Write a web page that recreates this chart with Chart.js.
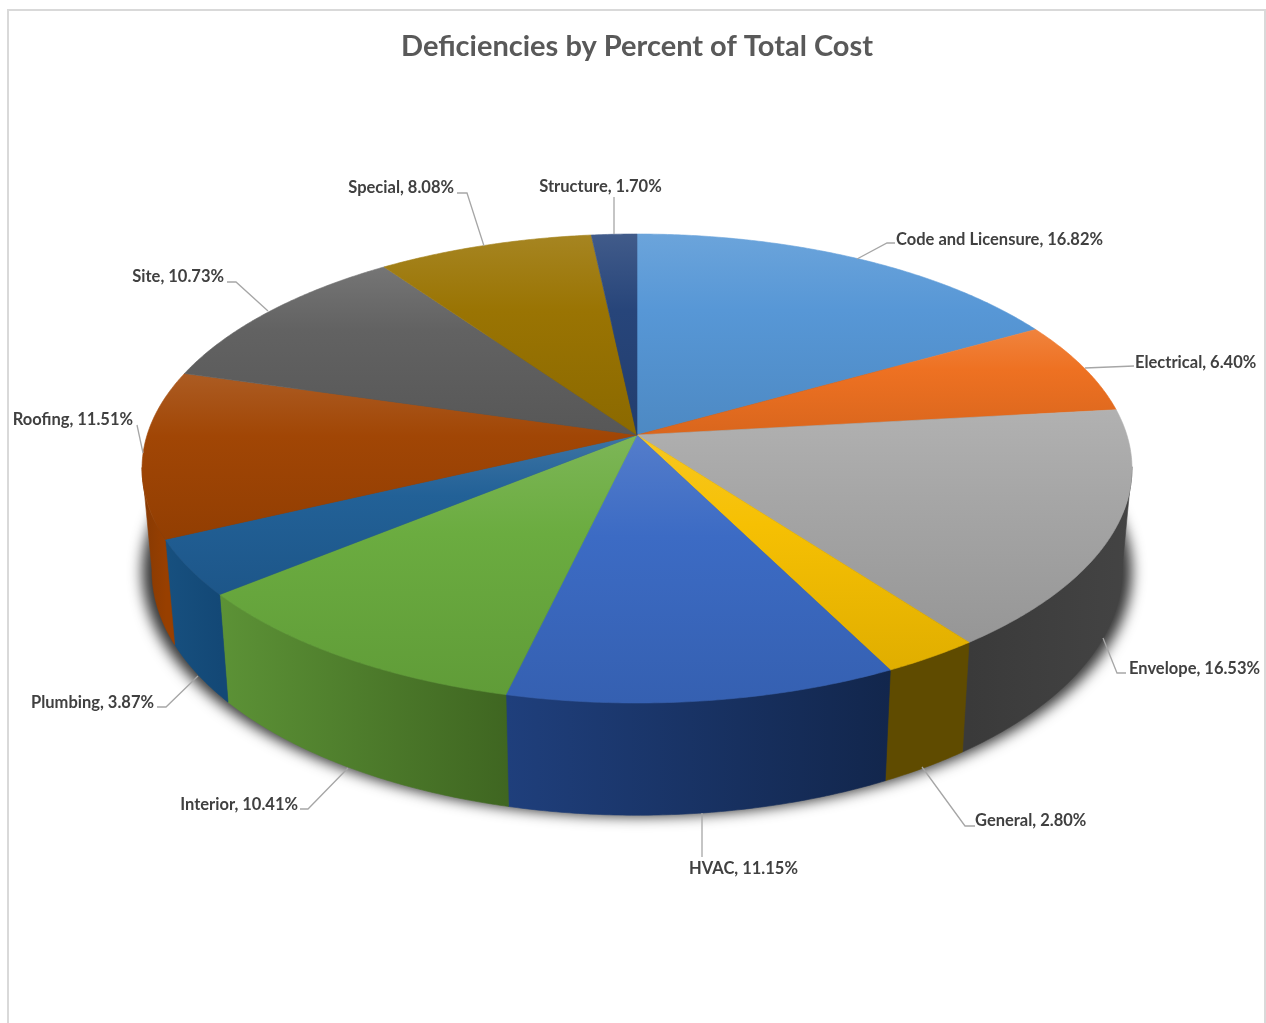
<!DOCTYPE html>
<html><head><meta charset="utf-8">
<style>html,body{margin:0;padding:0;background:#fff}canvas{display:block}</style>
<script src="https://cdn.jsdelivr.net/npm/chart.js@4"></script>
</head><body>
<canvas id="c" width="1266" height="1023"></canvas>
<script>
const categories = ["Code and Licensure","Electrical","Envelope","General","HVAC","Interior","Plumbing","Roofing","Site","Special","Structure"];
const percentCost = [16.82,6.40,16.53,2.80,11.15,10.41,3.87,11.51,10.73,8.08,1.70];
const chartTitle = "Deficiencies by Percent of Total Cost";

// styles
const topColors  = ["#5596d6","#ee7020","#a5a5a5","#f6bf00","#3a69c3","#69ab3e","#205f96","#a04402","#606060","#997300","#254379"];
const sideColors = [["#2f5a85","#2f5a85"],["#8a4010","#8a4010"],["#3a3a3a","#444444"],["#5f4b00","#5f4b00"],["#1f3f7c","#12264c"],["#5c9236","#3f6621"],["#17507f","#134876"],["#863a04","#983f00"],["#3a3a3a","#3a3a3a"],["#5c4600","#5c4600"],["#172a4a","#172a4a"]];
// label layout: [text x, text y, align, leader polyline]
const labelLayout = [
 [896,240,"left",[[857,259],[887,243],[895,243]]],
 [1135,363,"left",[[1085,368],[1134,366]]],
 [1129,669,"left",[[1103,638],[1117,673],[1126,673]]],
 [975,821,"left",[[922,767],[965,826],[975,826]]],
 [743.5,869,"center",[[702,813],[702,857]]],
 [298,805,"right",[[348,768],[308,809],[300,809]]],
 [154,703,"right",[[198,676],[166,707],[157,707]]],
 [133,420,"right",[[143,453],[137,425]]],
 [224,277,"right",[[268,311],[236,282],[227,282]]],
 [454,188,"right",[[484,246],[467,193],[457,193]]],
 [600.5,187,"center",[[614,234],[614,197]]]
];
// perspective projection of the pie disc
const P = {cx:637, cy:435, A:489.9, B:229.7, k:1/7, sx:0.98, sy:1.043, oy:82};
function topPt(th){const u=Math.sin(th),v=-Math.cos(th),w=1-P.k*v;return [P.cx+P.A*u/w,P.cy+P.B*v/w];}
function botPt(th){const p=topPt(th);return [P.cx+(p[0]-P.cx)*P.sx,p[1]*P.sy+P.oy];}
function steps(a,b){const n=Math.max(2,Math.ceil((b-a)/0.008)),r=[];for(let i=0;i<=n;i++)r.push(a+(b-a)*i/n);return r;}
function mix(hex,t,amt){const c=[1,3,5].map(i=>parseInt(hex.substr(i,2),16)),d=t==='w'?255:0;
  return 'rgb('+c.map(x=>Math.round(x+(d-x)*amt)).join(',')+')';}
function trace(ctx,pts){ctx.beginPath();pts.forEach((p,i)=>i?ctx.lineTo(p[0],p[1]):ctx.moveTo(p[0],p[1]));ctx.closePath();}

const framePlugin={id:'frame',beforeDraw(ch){const c=ch.ctx;c.save();c.fillStyle='#fff';c.fillRect(0,0,ch.width,ch.height);
  c.strokeStyle='#d9d9d9';c.lineWidth=2;c.beginPath();c.moveTo(8,1023);c.lineTo(8,10);c.lineTo(1265,10);c.lineTo(1265,1023);c.stroke();c.restore();}};

const pie3d={id:'pie3d',beforeDatasetsDraw(ch){
  const ctx=ch.ctx,arcs=ch.getDatasetMeta(0).data,off=4000;
  ctx.save();
  // drop shadow only: the caster sits off the canvas, its shadow lands under the pie
  const cap=steps(0,Math.PI*2).map(th=>{const p=botPt(th);return [P.cx+(p[0]-P.cx)*1.02-off,p[1]];});
  ctx.save();ctx.shadowColor='rgba(0,0,0,0.8)';ctx.shadowBlur=14;ctx.shadowOffsetX=off;ctx.shadowOffsetY=1;ctx.fillStyle='#000';trace(ctx,cap);ctx.fill();ctx.restore();
  // rim sides: only the part of the wall that faces the viewer
  arcs.forEach((arc,i)=>{
    const a=arc.startAngle+Math.PI/2,b=arc.endAngle+Math.PI/2;
    const ths=steps(a,b).filter(th=>-Math.cos(th)>=P.k-0.01);
    if(ths.length<2)return;
    const xs=ths.map(th=>topPt(th)[0]);
    const g=ctx.createLinearGradient(Math.min(...xs),0,Math.max(...xs)+1,0);
    g.addColorStop(0,sideColors[i][0]);g.addColorStop(1,sideColors[i][1]);
    trace(ctx,ths.map(topPt).concat(ths.slice().reverse().map(botPt)));
    ctx.fillStyle=g;ctx.strokeStyle=g;ctx.lineWidth=.6;ctx.fill();ctx.stroke();
  });
  // top faces
  arcs.forEach((arc,i)=>{
    const a=arc.startAngle+Math.PI/2,b=arc.endAngle+Math.PI/2;
    const pts=[[P.cx,P.cy]].concat(steps(a,b).map(topPt));
    const ys=pts.map(p=>p[1]),y0=Math.min(...ys),y1=Math.max(...ys);
    const g=ctx.createLinearGradient(0,y0,0,y1),col=topColors[i];
    g.addColorStop(0,mix(col,'w',.13));g.addColorStop(.38,mix(col,'w',.01));g.addColorStop(1,mix(col,'k',.09));
    trace(ctx,pts);ctx.fillStyle=g;ctx.fill();ctx.strokeStyle=g;ctx.lineWidth=.6;ctx.stroke();
  });
  // leaders and labels
  ctx.font='bold 16.5px Lato';ctx.textBaseline='middle';
  labelLayout.forEach((l,i)=>{
    ctx.strokeStyle='#a6a6a6';ctx.lineWidth=1.3;ctx.beginPath();l[3].forEach((p,j)=>j?ctx.lineTo(p[0],p[1]):ctx.moveTo(p[0],p[1]));ctx.stroke();
    ctx.fillStyle='#404040';ctx.textAlign=l[2];
    ctx.fillText(categories[i]+', '+percentCost[i].toFixed(2)+'%',l[0],l[1]);
  });
  ctx.restore();
  return false;
}};

new Chart(document.getElementById('c'),{
  type:'pie',
  data:{labels:categories,datasets:[{data:percentCost,backgroundColor:topColors,borderWidth:0}]},
  options:{responsive:false,animation:false,devicePixelRatio:1,
    layout:{padding:{left:8,top:0,right:0,bottom:0}},
    plugins:{legend:{display:false},tooltip:{enabled:false},
      title:{display:true,text:chartTitle,color:'#595959',font:{family:'Lato',size:29,weight:'bold'},padding:{top:29,bottom:20}}}},
  plugins:[framePlugin,pie3d]
});
</script>
</body></html>
